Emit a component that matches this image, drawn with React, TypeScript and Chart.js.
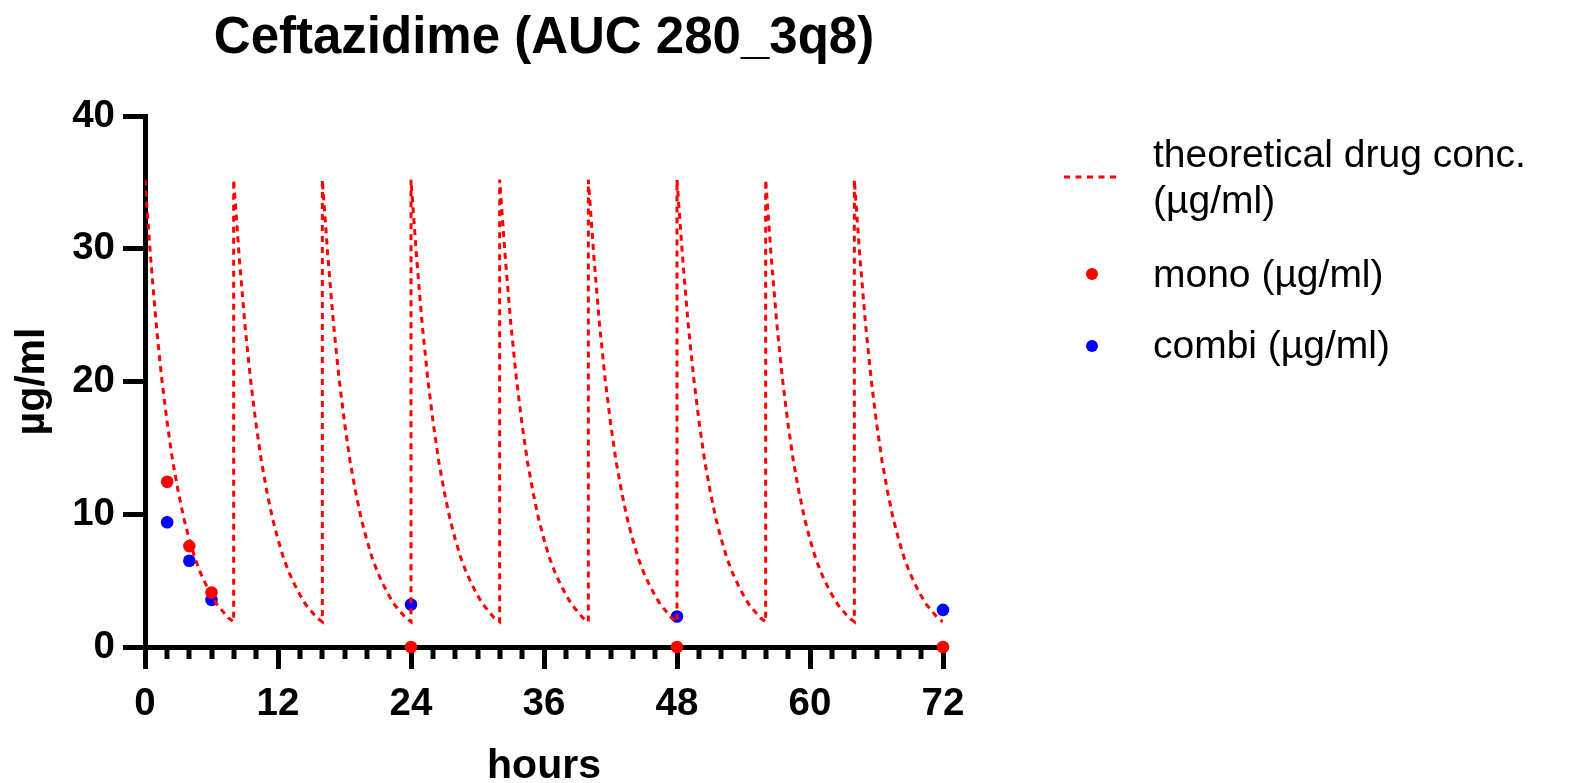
import React, { useEffect, useRef } from 'react';
import { Chart, registerables } from 'chart.js';

Chart.register(...registerables);

const FONT = '"Liberation Sans", Arial, sans-serif';

const chartTitle = 'Ceftazidime (AUC 280_3q8)';
const xAxisTitle = 'hours';
const yAxisTitle = 'µg/ml';
const legendTheory = ['theoretical drug conc.', '(µg/ml)'];
const legendMono = 'mono (µg/ml)';
const legendCombi = 'combi (µg/ml)';

// dosing every 8 h
const doseTimes = [0, 8, 16, 24, 32, 40, 48, 56, 64];
// concentration profile within one dosing interval (hours after dose -> µg/ml)
const intervalOffsets = [0, 0.5, 1, 1.5, 2, 2.5, 3, 3.5, 4, 4.5, 5, 5.5, 6, 6.5, 7, 7.5, 8];
const intervalConc = [35.2, 29.4, 24.4, 20.3, 16.9, 14.0, 11.7, 9.7, 8.1, 6.7, 5.6, 4.7, 3.9, 3.2, 2.7, 2.2, 1.9];

// measured samples
const sampleTimes = [2, 4, 6, 24, 48, 72];
const monoValues = [12.45, 7.6, 4.1, 0, 0, 0];
const combiValues = [9.4, 6.5, 3.55, 3.2, 2.3, 2.8];

// axes
const xMajorTicks = [0, 12, 24, 36, 48, 60, 72];
const xMinorTicks = [2, 4, 6, 8, 10, 14, 16, 18, 20, 22, 26, 28, 30, 32, 34, 38, 40, 42, 44, 46, 50, 52, 54, 56, 58, 62, 64, 66, 68, 70];
const yTicks = [0, 10, 20, 30, 40];

const decorPlugin = {
  id: 'decor',
  beforeDatasetsDraw(chart: any) {
    const ctx = chart.ctx;
    const xs = chart.scales.x;
    const bottom = chart.chartArea.bottom;
    ctx.save();
    ctx.strokeStyle = '#000';
    ctx.lineWidth = 5;
    ctx.lineCap = 'butt';
    xMinorTicks.forEach((t) => {
      const px = Math.round(xs.getPixelForValue(t));
      ctx.beginPath();
      ctx.moveTo(px, bottom);
      ctx.lineTo(px, bottom + 12);
      ctx.stroke();
    });
    ctx.restore();
  },
  afterDraw(chart: any) {
    const ctx = chart.ctx;
    const area = chart.chartArea;
    const cx = (area.left + area.right) / 2;
    const cy = (area.top + area.bottom) / 2;
    ctx.save();
    ctx.fillStyle = '#000';

    // title
    ctx.font = `bold 51px ${FONT}`;
    ctx.textAlign = 'center';
    ctx.textBaseline = 'alphabetic';
    ctx.fillText(chartTitle, cx, 53);

    // axis titles
    ctx.font = `bold 41px ${FONT}`;
    ctx.fillText(xAxisTitle, cx, 778);
    ctx.save();
    ctx.translate(44, cy);
    ctx.rotate(-Math.PI / 2);
    ctx.fillText(yAxisTitle, 0, 0);
    ctx.restore();

    // legend
    const lx = area.right + 121;
    const tx = area.right + 210;
    ctx.font = `39px ${FONT}`;
    ctx.textAlign = 'left';
    ctx.fillText(legendTheory[0], tx, 167);
    ctx.fillText(legendTheory[1], tx, 213);
    ctx.fillText(legendMono, tx, 287);
    ctx.fillText(legendCombi, tx, 358);

    ctx.strokeStyle = '#ff0000';
    ctx.lineWidth = 3;
    ctx.setLineDash([6, 5.5]);
    ctx.beginPath();
    ctx.moveTo(lx, 177);
    ctx.lineTo(lx + 57, 177);
    ctx.stroke();
    ctx.setLineDash([]);

    ctx.fillStyle = '#ff0000';
    ctx.beginPath();
    ctx.arc(lx + 28, 274, 6, 0, Math.PI * 2);
    ctx.fill();
    ctx.fillStyle = '#0000ff';
    ctx.beginPath();
    ctx.arc(lx + 28, 346, 6, 0, Math.PI * 2);
    ctx.fill();
    ctx.restore();
  },
};

export default function App() {
  const canvasRef = useRef<HTMLCanvasElement | null>(null);

  useEffect(() => {
    if (!canvasRef.current) return;

    const theoretical: { x: number; y: number }[] = [];
    doseTimes.forEach((d) => {
      intervalOffsets.forEach((o, i) => {
        theoretical.push({ x: d + o, y: intervalConc[i] });
      });
    });
    const mono = sampleTimes.map((t, i) => ({ x: t, y: monoValues[i] }));
    const combi = sampleTimes.map((t, i) => ({ x: t, y: combiValues[i] }));

    const chart = new Chart(canvasRef.current, {
      type: 'scatter',
      data: {
        datasets: [
          {
            label: 'mono (µg/ml)',
            data: mono,
            backgroundColor: '#ff0000',
            borderWidth: 0,
            pointRadius: 6.3,
            clip: false,
            order: 0,
          } as any,
          {
            label: 'theoretical drug conc. (µg/ml)',
            data: theoretical,
            showLine: true,
            borderColor: '#ff0000',
            borderWidth: 3,
            borderDash: [6, 5],
            pointRadius: 0,
            fill: false,
            tension: 0,
            order: 1,
          } as any,
          {
            label: 'combi (µg/ml)',
            data: combi,
            backgroundColor: '#0000ff',
            borderWidth: 0,
            pointRadius: 6.3,
            clip: false,
            order: 2,
          } as any,
        ],
      },
      options: {
        responsive: false,
        animation: false,
        events: [],
        layout: { padding: { top: 116, right: 639, left: 0, bottom: 0 } },
        plugins: {
          legend: { display: false },
          tooltip: { enabled: false },
          title: { display: false },
        },
        scales: {
          x: {
            type: 'linear',
            position: 'bottom',
            min: 0,
            max: 72,
            afterBuildTicks: (s: any) => {
              s.ticks = xMajorTicks.map((v) => ({ value: v }));
            },
            afterFit: (s: any) => {
              s.height = 136;
            },
            border: { display: true, color: '#000', width: 5 },
            grid: {
              drawOnChartArea: false,
              drawTicks: true,
              tickLength: 22,
              lineWidth: 5,
              tickWidth: 5,
              color: '#000',
              tickColor: '#000',
            },
            ticks: {
              color: '#000',
              font: { family: FONT, size: 38.5, weight: 'bold' },
              padding: 12,
              maxRotation: 0,
              autoSkip: false,
            },
            title: { display: false },
          },
          y: {
            type: 'linear',
            position: 'left',
            min: 0,
            max: 40,
            afterBuildTicks: (s: any) => {
              s.ticks = yTicks.map((v) => ({ value: v }));
            },
            afterFit: (s: any) => {
              s.width = 145;
            },
            border: { display: true, color: '#000', width: 5 },
            grid: {
              drawOnChartArea: false,
              drawTicks: true,
              tickLength: 22,
              lineWidth: 5,
              tickWidth: 5,
              color: '#000',
              tickColor: '#000',
            },
            ticks: {
              color: '#000',
              font: { family: FONT, size: 38.5, weight: 'bold' },
              padding: 8,
            },
            title: { display: false },
          },
        },
      } as any,
      plugins: [decorPlugin],
    });

    return () => chart.destroy();
  }, []);

  return (
    <div style={{ position: 'fixed', left: 0, top: 0, width: 1582, height: 783, background: '#fff' }}>
      <canvas ref={canvasRef} width={1582} height={783} style={{ width: 1582, height: 783, display: 'block' }} />
    </div>
  );
}
